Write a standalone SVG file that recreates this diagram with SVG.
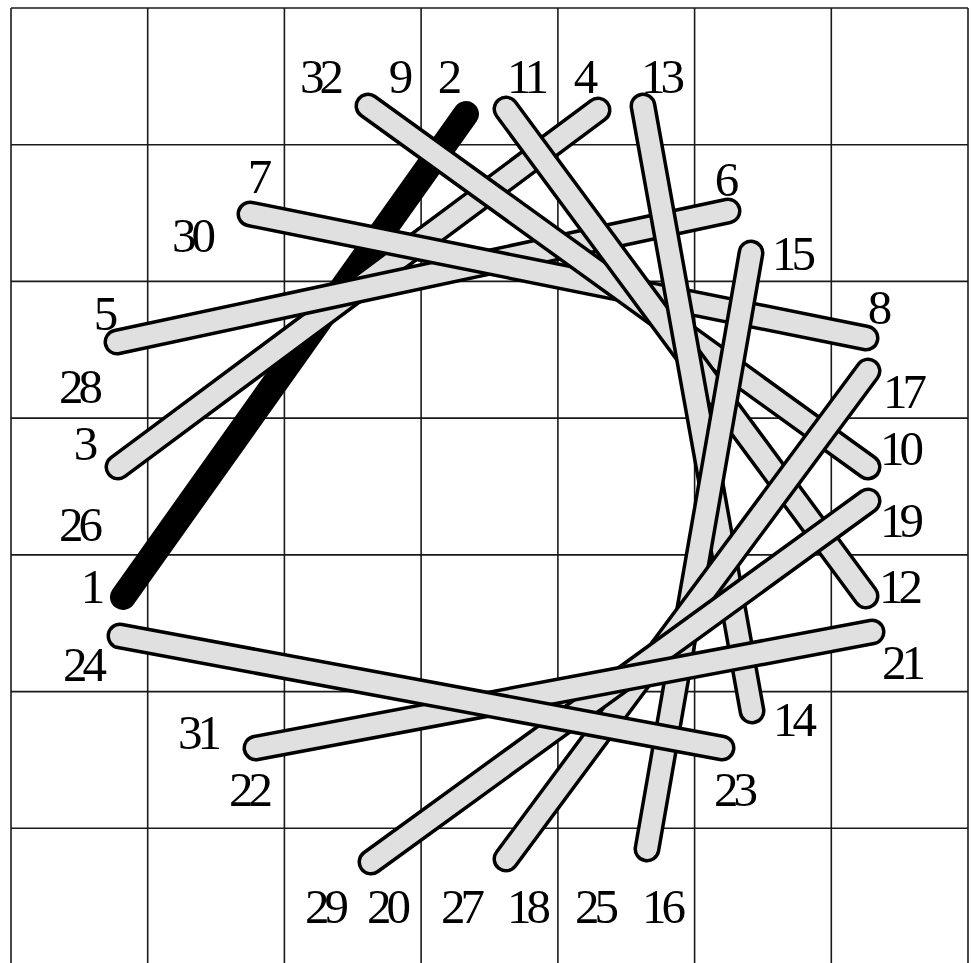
<svg xmlns="http://www.w3.org/2000/svg" width="971" height="963" viewBox="0 0 971 963">
<style>
.grid line{stroke:#1a1a1a;stroke-width:1.6}
.o{stroke:#000;stroke-width:27;stroke-linecap:round;fill:none}
.f{stroke:#e0e0e0;stroke-width:20;stroke-linecap:round;fill:none}
.k{stroke:#000;stroke-width:26;stroke-linecap:round;fill:none}
text{font-family:"Liberation Serif","Times New Roman",serif;font-size:49px;letter-spacing:-5px;text-anchor:middle;fill:#000}
</style>
<rect width="971" height="963" fill="#fff"/>
<g class="grid" id="grid">
<line x1="11" y1="8" x2="11" y2="963"/>
<line x1="147.7" y1="8" x2="147.7" y2="963"/>
<line x1="284.4" y1="8" x2="284.4" y2="963"/>
<line x1="421.1" y1="8" x2="421.1" y2="963"/>
<line x1="557.9" y1="8" x2="557.9" y2="963"/>
<line x1="694.6" y1="8" x2="694.6" y2="963"/>
<line x1="831.3" y1="8" x2="831.3" y2="963"/>
<line x1="968" y1="8" x2="968" y2="963"/>
<line x1="11" y1="8" x2="968" y2="8"/>
<line x1="11" y1="144.7" x2="968" y2="144.7"/>
<line x1="11" y1="281.4" x2="968" y2="281.4"/>
<line x1="11" y1="418.1" x2="968" y2="418.1"/>
<line x1="11" y1="554.9" x2="968" y2="554.9"/>
<line x1="11" y1="691.6" x2="968" y2="691.6"/>
<line x1="11" y1="828.3" x2="968" y2="828.3"/>
</g>
<g id="connectors">
<g id="s1-2"><line class="k" x1="123" y1="597" x2="466" y2="114"/></g>
<g id="s3-4"><line class="o" x1="118" y1="467" x2="598" y2="110"/><line class="f" x1="118" y1="467" x2="598" y2="110"/></g>
<g id="s5-6"><line class="o" x1="117" y1="342" x2="728" y2="211"/><line class="f" x1="117" y1="342" x2="728" y2="211"/></g>
<g id="s7-8"><line class="o" x1="250" y1="214" x2="866" y2="338"/><line class="f" x1="250" y1="214" x2="866" y2="338"/></g>
<g id="s9-10"><line class="o" x1="368" y1="106" x2="868" y2="467"/><line class="f" x1="368" y1="106" x2="868" y2="467"/></g>
<g id="s11-12"><line class="o" x1="506" y1="109" x2="866" y2="596"/><line class="f" x1="506" y1="109" x2="866" y2="596"/></g>
<g id="s13-14"><line class="o" x1="643" y1="106" x2="752" y2="711"/><line class="f" x1="643" y1="106" x2="752" y2="711"/></g>
<g id="s15-16"><line class="o" x1="751" y1="253" x2="647" y2="849"/><line class="f" x1="751" y1="253" x2="647" y2="849"/></g>
<g id="s17-18"><line class="o" x1="868" y1="371" x2="506" y2="859"/><line class="f" x1="868" y1="371" x2="506" y2="859"/></g>
<g id="s19-20"><line class="o" x1="868" y1="501" x2="371" y2="862"/><line class="f" x1="868" y1="501" x2="371" y2="862"/></g>
<g id="s21-22"><line class="o" x1="872" y1="632" x2="256" y2="748"/><line class="f" x1="872" y1="632" x2="256" y2="748"/></g>
<g id="s23-24"><line class="o" x1="722" y1="748" x2="120" y2="636"/><line class="f" x1="722" y1="748" x2="120" y2="636"/></g>
</g>
<g id="labels" font-family="Liberation Serif, serif">
<g id="n32"><text x="319.5" y="93">32</text></g>
<g id="n9"><text x="398.5" y="93">9</text></g>
<g id="n2"><text x="447.5" y="93">2</text></g>
<g id="n11"><text x="525.5" y="93">11</text></g>
<g id="n4"><text x="583.5" y="93">4</text></g>
<g id="n13"><text x="660.5" y="93">13</text></g>
<g id="n7"><text x="257.5" y="193">7</text></g>
<g id="n30"><text x="191.5" y="252">30</text></g>
<g id="n6"><text x="724.5" y="196">6</text></g>
<g id="n15"><text x="791.5" y="270">15</text></g>
<g id="n5"><text x="103.5" y="330">5</text></g>
<g id="n8"><text x="877.5" y="324">8</text></g>
<g id="n28"><text x="78.5" y="403">28</text></g>
<g id="n17"><text x="902.5" y="408">17</text></g>
<g id="n3"><text x="83.5" y="460">3</text></g>
<g id="n10"><text x="899.5" y="465">10</text></g>
<g id="n26"><text x="78.5" y="541">26</text></g>
<g id="n19"><text x="899.5" y="537">19</text></g>
<g id="n1"><text x="90.5" y="603">1</text></g>
<g id="n12"><text x="898.5" y="603">12</text></g>
<g id="n24"><text x="82.5" y="681">24</text></g>
<g id="n21"><text x="901.5" y="679">21</text></g>
<g id="n14"><text x="792.5" y="736">14</text></g>
<g id="n31"><text x="197.5" y="749">31</text></g>
<g id="n22"><text x="248.5" y="806">22</text></g>
<g id="n23"><text x="733.5" y="806">23</text></g>
<g id="n29"><text x="324.5" y="923">29</text></g>
<g id="n20"><text x="386.5" y="923">20</text></g>
<g id="n27"><text x="460.5" y="923">27</text></g>
<g id="n18"><text x="526.5" y="923">18</text></g>
<g id="n25"><text x="594.5" y="923">25</text></g>
<g id="n16"><text x="661.5" y="923">16</text></g>
</g>
</svg>
